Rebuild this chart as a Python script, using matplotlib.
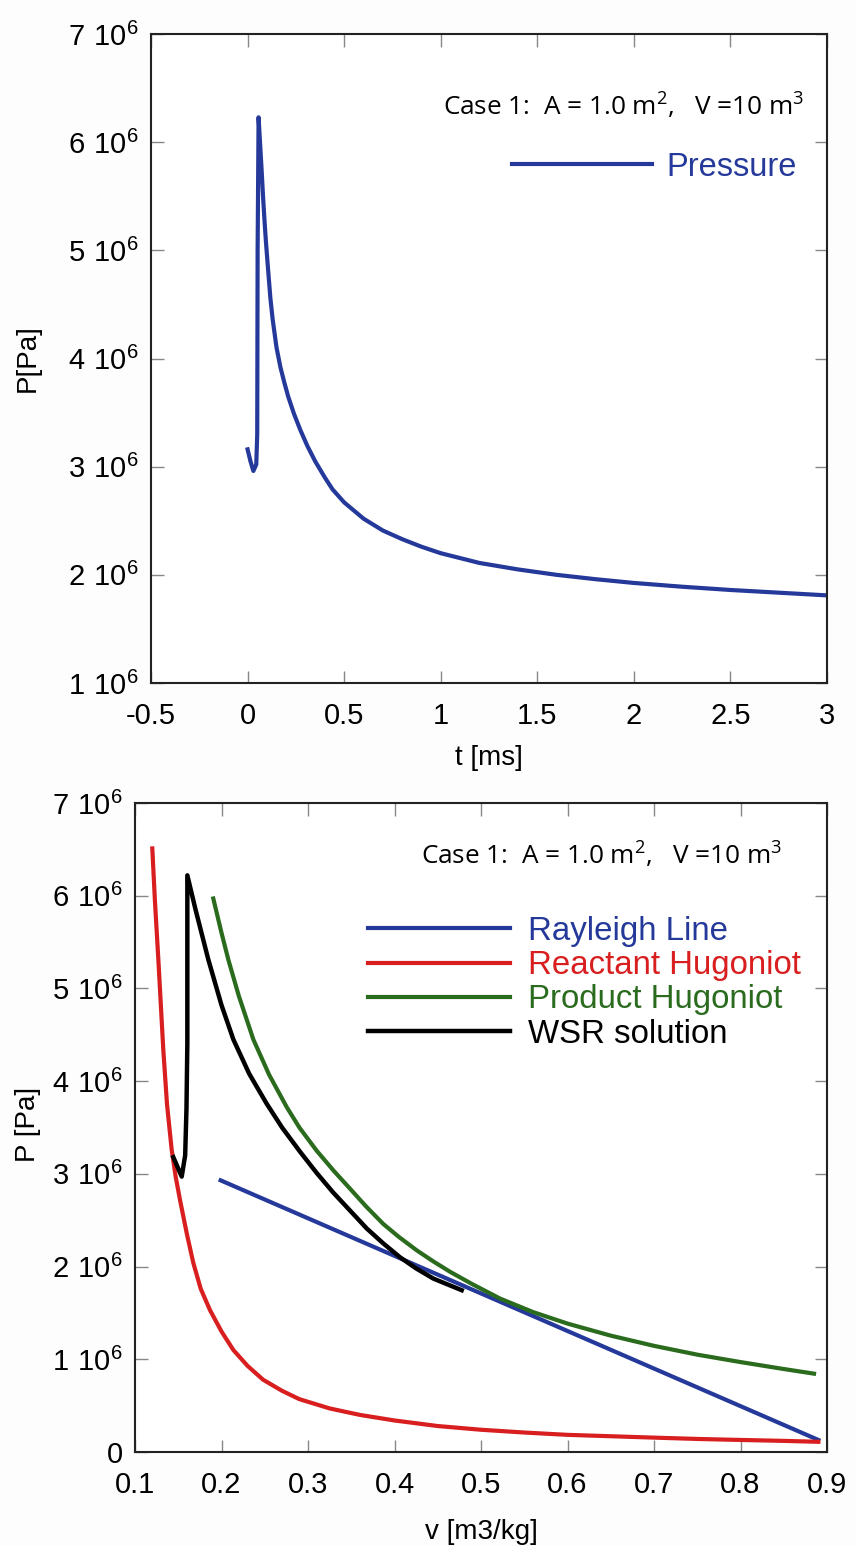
import numpy as np
import matplotlib
matplotlib.use("Agg")
import matplotlib.pyplot as plt

# ── Data: top panel, pressure history (P in 1e6 Pa) ──────────────────────────
T_MS = [0.0, 0.015, 0.03, 0.045, 0.05, 0.052, 0.057, 0.065, 0.0725, 0.08,
        0.0875, 0.095, 0.105, 0.118, 0.13, 0.15, 0.17, 0.19, 0.21, 0.24,
        0.273, 0.31, 0.35, 0.4, 0.44, 0.5, 0.6, 0.7, 0.8, 0.9,
        1.0, 1.2, 1.4, 1.6, 1.8, 2.0, 2.25, 2.5, 2.75, 3.0]
P_T = [3.16, 3.05, 2.96, 3.02, 3.3, 5.0, 6.23, 5.98, 5.75, 5.50,
       5.28, 5.08, 4.85, 4.56, 4.36, 4.10, 3.92, 3.78, 3.65, 3.49,
       3.34, 3.19, 3.05, 2.90, 2.79, 2.67, 2.52, 2.41, 2.33, 2.26,
       2.20, 2.11, 2.05, 2.00, 1.96, 1.925, 1.89, 1.86, 1.835, 1.81]

# ── Data: bottom panel, P-v diagram (P in 1e6 Pa) ────────────────────────────
V_REACT = [0.120, 0.123, 0.127, 0.130, 0.1327, 0.137, 0.1424, 0.147, 0.152,
           0.160, 0.1674, 0.176, 0.1867, 0.200, 0.2137, 0.230, 0.248, 0.270,
           0.290, 0.325, 0.360, 0.400, 0.450, 0.500, 0.550, 0.600, 0.650,
           0.700, 0.753, 0.800, 0.850, 0.890]
P_REACT = [6.51, 5.95, 5.31, 4.80, 4.34, 3.75, 3.26, 2.97, 2.72,
           2.35, 2.04, 1.76, 1.53, 1.30, 1.10, 0.93, 0.78, 0.66,
           0.57, 0.47, 0.40, 0.34, 0.28, 0.24, 0.21, 0.185, 0.17,
           0.155, 0.14, 0.13, 0.12, 0.11]

V_RAY = [0.199, 0.89]
P_RAY = [2.93, 0.13]

V_PROD = [0.1905, 0.200, 0.2079, 0.220, 0.2368, 0.255, 0.2754, 0.290, 0.310,
          0.330, 0.3486, 0.367, 0.387, 0.405, 0.4257, 0.445, 0.464, 0.490,
          0.522, 0.560, 0.600, 0.650, 0.700, 0.750, 0.800, 0.850, 0.885]
P_PROD = [5.97, 5.60, 5.31, 4.92, 4.45, 4.07, 3.72, 3.50, 3.25,
          3.03, 2.84, 2.65, 2.46, 2.32, 2.175, 2.055, 1.945, 1.81,
          1.655, 1.51, 1.385, 1.255, 1.145, 1.05, 0.97, 0.895, 0.845]

V_WSR = [0.1443, 0.154, 0.158, 0.1595, 0.1605, 0.1605, 0.170, 0.1848, 0.200,
         0.2137, 0.232, 0.252, 0.270, 0.2907, 0.310, 0.329, 0.350, 0.368,
         0.387, 0.4064, 0.425, 0.445, 0.4777]
P_WSR = [3.18, 2.97, 3.2, 3.7, 4.4, 6.22, 5.85, 5.31, 4.82,
         4.45, 4.08, 3.76, 3.50, 3.24, 3.01, 2.80, 2.59, 2.41,
         2.25, 2.10, 1.98, 1.87, 1.745]

T_TICKS = [-0.5, 0, 0.5, 1, 1.5, 2, 2.5, 3]
V_TICKS = [0.1, 0.2, 0.3, 0.4, 0.5, 0.6, 0.7, 0.8, 0.9]

CASE_TXT = r"Case 1:  A = 1.0 m$\mathregular{^2}$,   V =10 m$\mathregular{^3}$"

C_BLUE  = '#25399a'
C_RED   = '#d81e1e'
C_GREEN = '#2a6b1e'
C_BLACK = '#000000'

plt.rcParams.update({
    'font.family': ['Liberation Sans', 'DejaVu Sans'],
    'font.size': 21,
    'axes.linewidth': 1.5,
    'axes.edgecolor': '#222222',
    'lines.solid_joinstyle': 'round',
})

W, H = 856, 1546
fig = plt.figure(figsize=(W / 100, H / 100), dpi=100)
fig.patch.set_facecolor('#fdfdfd')


def px_axes(l, t, r, b):
    return fig.add_axes([l / W, 1 - b / H, (r - l) / W, (b - t) / H])


def style(ax):
    ax.tick_params(direction='in', length=9, width=1.0, color='#888888',
                   top=True, right=True, labelsize=21)
    ax.tick_params(axis='x', pad=14)
    ax.tick_params(axis='y', pad=9)


def p_label(v):
    return r'$\mathregular{%d\ 10^6}$' % v if v else '0'


# ── Top panel ────────────────────────────────────────────────────────────────
ax1 = px_axes(151, 34, 827, 683)
ax1.plot(T_MS, np.array(P_T) * 1e6, color=C_BLUE, lw=3, label='Pressure')
ax1.set_xlim(-0.5, 3)
ax1.set_ylim(1e6, 7e6)
ax1.set_xticks(T_TICKS)
ax1.set_xticklabels([f'{t:g}' for t in T_TICKS])
yt = np.arange(1, 8)
ax1.set_yticks(yt * 1e6)
ax1.set_yticklabels([p_label(v) for v in yt])
style(ax1)
ax1.set_xlabel('t [ms]', fontsize=20)
ax1.xaxis.set_label_coords(0.5, -0.095)
ax1.set_ylabel('P[Pa]', fontsize=20)
ax1.yaxis.set_label_coords(-0.163, 0.5)
ax1.text(0.967, 0.875, CASE_TXT, transform=ax1.transAxes, ha='right',
         va='baseline', fontsize=18.8, family=['Open Sans', 'DejaVu Sans'])
ax1.legend(loc='center left', bbox_to_anchor=(0.534, 0.795), frameon=False,
           fontsize=23.5, handlelength=4.3, handletextpad=0.43,
           borderpad=0, borderaxespad=0, labelcolor='linecolor')

# ── Bottom panel ─────────────────────────────────────────────────────────────
ax2 = px_axes(135, 803, 827, 1452)
ax2.plot(V_RAY, np.array(P_RAY) * 1e6, color=C_BLUE, lw=3, label='Rayleigh Line')
ax2.plot(V_REACT, np.array(P_REACT) * 1e6, color=C_RED, lw=3,
         label='Reactant Hugoniot')
ax2.plot(V_PROD, np.array(P_PROD) * 1e6, color=C_GREEN, lw=3,
         label='Product Hugoniot')
ax2.plot(V_WSR, np.array(P_WSR) * 1e6, color=C_BLACK, lw=3.2,
         label='WSR solution')
ax2.set_xlim(0.1, 0.9)
ax2.set_ylim(0, 7e6)
ax2.set_xticks(V_TICKS)
ax2.set_xticklabels([f'{v:g}' for v in V_TICKS])
yt2 = np.arange(0, 8)
ax2.set_yticks(yt2 * 1e6)
ax2.set_yticklabels([p_label(v) for v in yt2])
style(ax2)
ax2.set_xlabel('v [m3/kg]', fontsize=20)
ax2.xaxis.set_label_coords(0.5, -0.104)
ax2.set_ylabel('P [Pa]', fontsize=20)
ax2.yaxis.set_label_coords(-0.136, 0.504)
ax2.text(0.935, 0.9045, CASE_TXT, transform=ax2.transAxes, ha='right',
         va='baseline', fontsize=18.8, family=['Open Sans', 'DejaVu Sans'])
ax2.legend(loc='center left', bbox_to_anchor=(0.337, 0.723), frameon=False,
           fontsize=23.8, handlelength=4.3, handletextpad=0.53,
           labelspacing=0.1, borderpad=0, borderaxespad=0,
           labelcolor='linecolor')

fig.savefig('out.png', dpi=100, facecolor=fig.get_facecolor())
